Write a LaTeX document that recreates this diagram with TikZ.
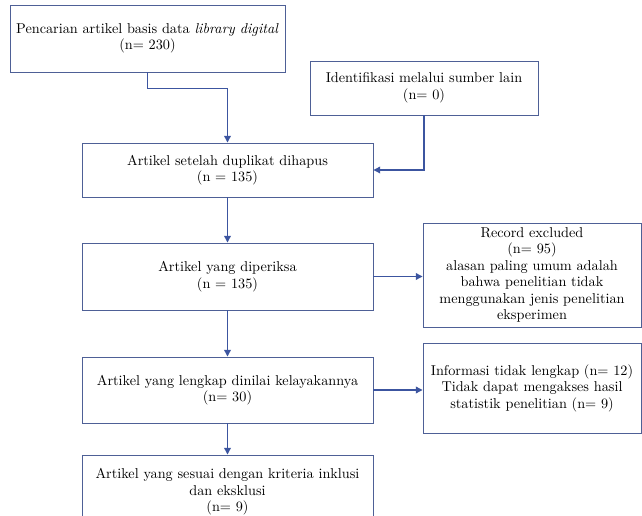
\documentclass[tikz,border=0pt]{standalone}
\usepackage{tikz}
\usetikzlibrary{arrows.meta,calc}
\definecolor{boxline}{RGB}{78,96,150}
\definecolor{arrline}{RGB}{60,85,160}

\begin{document}
\begin{tikzpicture}[
    x=0.75pt, y=-0.75pt,
    font=\fontsize{10.7}{12.4}\selectfont,
    box/.style={draw=boxline, line width=0.7pt, align=center, inner sep=3pt},
    mainbox/.style={box, minimum width=218.25pt},
    sidebox/.style={box, minimum width=163.5pt},
    ar/.style={-{Triangle[length=5pt,width=5pt]}, line width=0.9pt, arrline},
  ]
    \clip (0,0) rectangle (642,516);

    \node[box, minimum width=206.25pt, minimum height=50.25pt] (search) at (147.5,38.5)
      {Pencarian artikel basis data \emph{library digital}\\(n= 230)};
    \node[box, minimum width=171pt, minimum height=40.5pt] (other) at (424,88)
      {Identifikasi melalui sumber lain\\(n= 0)};

    \node[mainbox, minimum height=40.5pt] (dedup) at (227.5,170)
      {Artikel setelah duplikat dihapus\\(n = 135)};
    \node[mainbox, minimum height=50.25pt] (screen) at (227.5,276.5)
      {Artikel yang diperiksa\\(n = 135)};
    \node[mainbox, minimum height=49.5pt] (elig) at (227.5,390)
      {Artikel yang lengkap dinilai kelayakannya\\(n= 30)};
    \node[mainbox, minimum height=55.5pt] (incl) at (227.5,492)
      {Artikel yang sesuai dengan kriteria inklusi\\dan eksklusi\\(n= 9)};

    \node[sidebox, minimum height=78pt] (excl) at (532,275)
      {Record excluded\\(n= 95)\\alasan paling umum adalah\\bahwa penelitian tidak\\menggunakan jenis penelitian\\eksperimen};
    \node[sidebox, minimum height=67.5pt] (miss) at (532,388)
      {Informasi tidak lengkap (n= 12)\\Tidak dapat mengakses hasil\\statistik penelitian (n= 9)};

    \draw[ar] (search.south) -- ++(0,16) -| (dedup.north);
    \draw[ar] (other.south) |- (dedup.east);
    \draw[ar] (dedup) -- (screen);
    \draw[ar] (screen.east) -- (screen.east -| excl.west);
    \draw[ar] (screen) -- (elig);
    \draw[ar] (elig.east) -- (elig.east -| miss.west);
    \draw[ar] (elig) -- (incl);
  \end{tikzpicture}
\end{document}
